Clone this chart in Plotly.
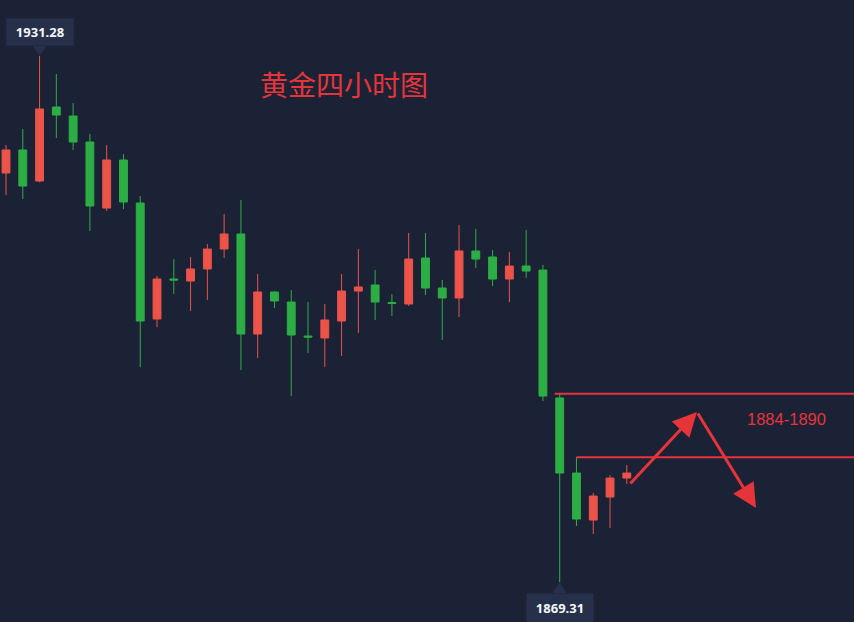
import plotly.graph_objects as go

# ---- data ----
idx = list(range(38))
opens = [1917.50, 1920.21, 1916.55, 1925.27, 1924.21, 1921.15, 1913.37, 1919.03,
         1913.96, 1900.30, 1905.01, 1904.77, 1906.19, 1908.54, 1910.31, 1898.53,
         1903.48, 1902.30, 1898.29, 1898.06, 1900.06, 1903.59, 1904.30, 1902.24,
         1902.06, 1907.48, 1903.95, 1902.77, 1908.31, 1907.60, 1905.01, 1906.54,
         1906.07, 1890.99, 1882.15, 1876.61, 1879.32, 1881.56]
highs = [1920.79, 1922.68, 1931.28, 1929.16, 1925.74, 1922.09, 1920.79, 1919.73,
         1914.79, 1905.36, 1907.36, 1907.60, 1909.13, 1912.67, 1914.32, 1905.60,
         1903.60, 1903.71, 1902.30, 1902.06, 1905.60, 1908.54, 1906.07, 1903.24,
         1910.43, 1910.43, 1904.89, 1911.37, 1910.90, 1908.42, 1908.19, 1910.78,
         1906.66, 1891.46, 1884.04, 1879.80, 1881.92, 1883.09]
lows = [1914.90, 1914.43, 1916.40, 1921.62, 1920.21, 1910.66, 1913.02, 1913.25,
        1894.64, 1899.35, 1903.24, 1901.24, 1902.53, 1907.48, 1894.29, 1895.70,
        1901.59, 1891.22, 1896.29, 1894.64, 1895.94, 1898.65, 1900.18, 1900.65,
        1901.83, 1903.12, 1897.82, 1900.53, 1906.30, 1904.18, 1902.30, 1905.13,
        1890.63, 1869.31, 1875.91, 1874.97, 1875.67, 1880.86]
closes = [1920.21, 1915.96, 1925.04, 1924.33, 1921.15, 1913.61, 1919.03, 1914.08,
          1900.06, 1905.01, 1904.89, 1906.19, 1908.54, 1910.31, 1898.53, 1903.48,
          1902.42, 1898.41, 1898.17, 1900.18, 1903.59, 1904.07, 1902.30, 1902.12,
          1907.36, 1903.95, 1902.77, 1908.31, 1907.36, 1905.01, 1906.54, 1905.95,
          1891.22, 1882.15, 1876.73, 1879.44, 1881.56, 1882.15]

HIGH_LABEL = "1931.28"
LOW_LABEL = "1869.31"
TITLE = "黄金四小时图"
ZONE_TEXT = "1884-1890"
LEVELS = [1891.5, 1884.0]      # resistance lines
LEVEL_START = [32.7, 34.0]

UP = "#ec5349"
DOWN = "#2cae45"
BG = "#1c2235"
BOX = "#27304a"
RED = "#e5353b"

fig = go.Figure()
fig.add_trace(go.Candlestick(
    x=idx, open=opens, high=highs, low=lows, close=closes,
    increasing=dict(line=dict(color=UP, width=1), fillcolor=UP),
    decreasing=dict(line=dict(color=DOWN, width=1), fillcolor=DOWN),
    whiskerwidth=0, showlegend=False, hoverinfo="skip"))

XR = [-0.358, 50.54]
YR = [1864.60, 1937.88]

shapes = []
for lv, x0 in zip(LEVELS, LEVEL_START):
    shapes.append(dict(type="line", xref="x", yref="y", x0=x0, x1=XR[1],
                       y0=lv, y1=lv, line=dict(color=RED, width=2)))

# pointer triangles for high / low labels
hi_i = highs.index(max(highs))
lo_i = lows.index(min(lows))
shapes.append(dict(type="path", xref="x", yref="y", xsizemode="pixel", ysizemode="pixel",
                   xanchor=hi_i, yanchor=max(highs),
                   path="M -7,10 L 7,10 L 0,0 Z", fillcolor=BOX, line=dict(width=0)))
shapes.append(dict(type="path", xref="x", yref="y", xsizemode="pixel", ysizemode="pixel",
                   xanchor=lo_i, yanchor=min(lows),
                   path="M -7,-11 L 7,-11 L 0,0 Z", fillcolor=BOX, line=dict(width=0)))

annotations = [
    dict(text="<b>" + HIGH_LABEL + "</b>", x=hi_i, y=max(highs), xref="x", yref="y",
         yanchor="bottom", yshift=10, showarrow=False, bgcolor=BOX, width=58, height=18,
         borderpad=4, font=dict(color="#f4f6fa", size=13, family="Noto Sans")),
    dict(text="<b>" + LOW_LABEL + "</b>", x=lo_i, y=min(lows), xref="x", yref="y",
         yanchor="top", yshift=-11, showarrow=False, bgcolor=BOX, width=58, height=20,
         borderpad=4, font=dict(color="#f4f6fa", size=13, family="Noto Sans")),
    dict(text=TITLE, x=344 / 854, y=1 - 84 / 622, xref="paper", yref="paper",
         xanchor="center", yanchor="middle", showarrow=False,
         font=dict(color=RED, size=28, family="Noto Sans CJK SC")),
    dict(text=ZONE_TEXT, x=46.5, y=1888.5, xref="x", yref="y", showarrow=False,
         xanchor="center", yanchor="middle",
         font=dict(color=RED, size=16.5, family="Liberation Sans")),
    # arrows: up then down
    dict(x=41.18, y=1889.34, ax=37.13, ay=1880.74, xref="x", yref="y", axref="x", ayref="y",
         text="", showarrow=True, arrowhead=2, arrowsize=1.6, arrowwidth=3, arrowcolor=RED),
    dict(x=44.70, y=1878.03, ax=41.18, ay=1889.34, xref="x", yref="y", axref="x", ayref="y",
         text="", showarrow=True, arrowhead=2, arrowsize=1.6, arrowwidth=3, arrowcolor=RED),
]

fig.update_layout(
    width=854, height=622, margin=dict(l=0, r=0, t=0, b=0),
    paper_bgcolor=BG, plot_bgcolor=BG, boxgap=0.33, dragmode=False,
    xaxis=dict(range=XR, visible=False, showgrid=False, rangeslider=dict(visible=False)),
    yaxis=dict(range=YR, visible=False, showgrid=False),
    shapes=shapes, annotations=annotations, showlegend=False,
)

fig.write_html(
    "out.html",
    config={"displayModeBar": False, "staticPlot": True},
    post_script="document.body.style.margin='0';document.body.style.background='#1c2235';"
                "document.body.style.overflow='hidden';",
)
